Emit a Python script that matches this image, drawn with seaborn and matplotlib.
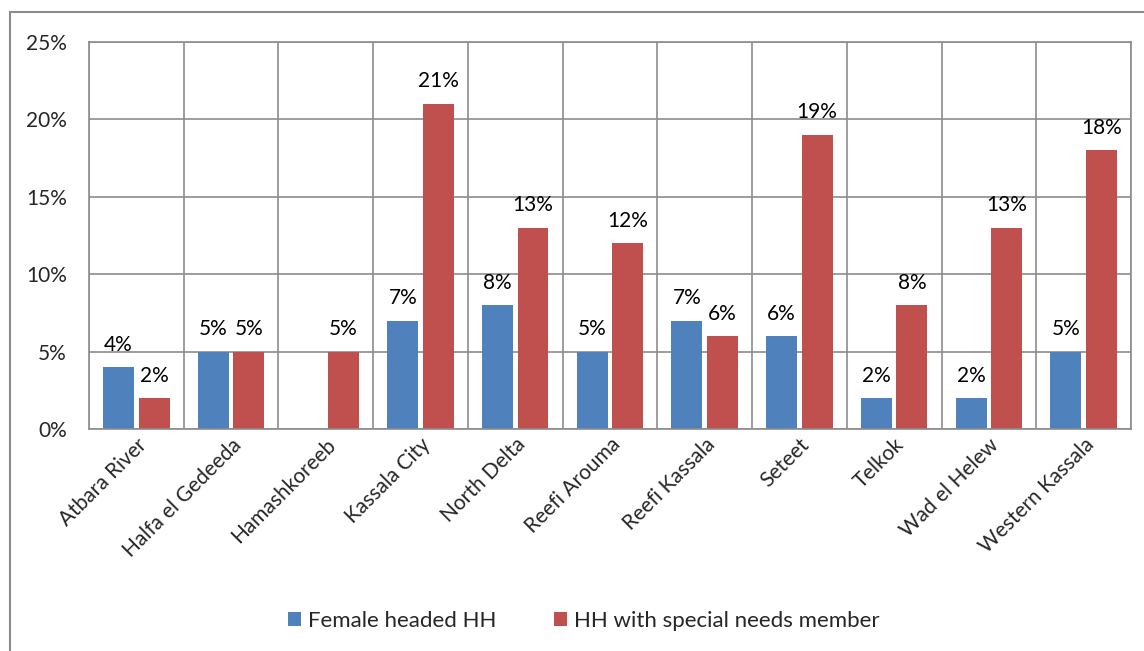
import numpy as np
import pandas as pd
import seaborn as sns
import matplotlib.pyplot as plt
from matplotlib.patches import Rectangle
from matplotlib.ticker import PercentFormatter

districts = ["Atbara River", "Halfa el Gedeeda", "Hamashkoreeb", "Kassala City",
             "North Delta", "Reefi Arouma", "Reefi Kassala", "Seteet", "Telkok",
             "Wad el Helew", "Western Kassala"]
female_headed = [4, 5, np.nan, 7, 8, 5, 7, 6, 2, 2, 5]
special_needs = [2, 5, 5, 21, 13, 12, 6, 19, 8, 13, 18]
series = ["Female headed HH", "HH with special needs member"]
colors = ["#4F81BD", "#C0504D"]

df = pd.DataFrame({
    "district": districts * 2,
    "series": [series[0]] * len(districts) + [series[1]] * len(districts),
    "value": female_headed + special_needs,
})

sns.set_style("white")
plt.rcParams["font.family"] = ["Lato", "DejaVu Sans"]

fig = plt.figure(figsize=(11.44, 6.51), dpi=100)
ax = fig.add_axes([0.0778, 0.341, 0.9108, 0.5945])

sns.barplot(data=df, x="district", y="value", hue="series", palette=colors,
            width=0.75, gap=0.13, ax=ax, saturation=1, linewidth=0)

for cont in ax.containers:
    labels = ["" if np.isnan(v) else f"{v:.0f}%" for v in cont.datavalues]
    ax.bar_label(cont, labels=labels, padding=9, fontsize=15, color="black")

ax.set_ylim(0, 25)
ax.set_yticks(range(0, 26, 5))
ax.yaxis.set_major_formatter(PercentFormatter(decimals=0))
ax.set_xlim(-0.5, len(districts) - 0.5)
ax.set_xticks(np.arange(-0.5, len(districts), 1), minor=True)
ax.grid(axis="y", which="major", color="#8c8c8c", linewidth=1.2)
ax.grid(axis="x", which="minor", color="#8c8c8c", linewidth=1.2)
ax.grid(axis="x", which="major", visible=False)
ax.set_axisbelow(True)
for s in ax.spines.values():
    s.set_color("#8c8c8c")
    s.set_linewidth(1.2)
ax.tick_params(axis="both", which="both", length=0, labelsize=15)
ax.tick_params(axis="y", pad=16)
ax.tick_params(axis="x", pad=4)
plt.setp(ax.get_xticklabels(), rotation=45, ha="right", rotation_mode="anchor")
ax.set_xlabel("")
ax.set_ylabel("")

ax.legend(loc="center", bbox_to_anchor=(0.51, 0.046), bbox_transform=fig.transFigure,
          ncol=2, frameon=False, fontsize=16, handlelength=0.6, handleheight=0.6,
          handletextpad=0.3, columnspacing=2.6)

fig.patches.append(Rectangle((10 / 1144, -0.05), 1.0, 1.05 - 12 / 651,
                             transform=fig.transFigure, fill=False,
                             edgecolor="#8c8c8c", linewidth=1.5))

fig.savefig("out.png", dpi=100)
